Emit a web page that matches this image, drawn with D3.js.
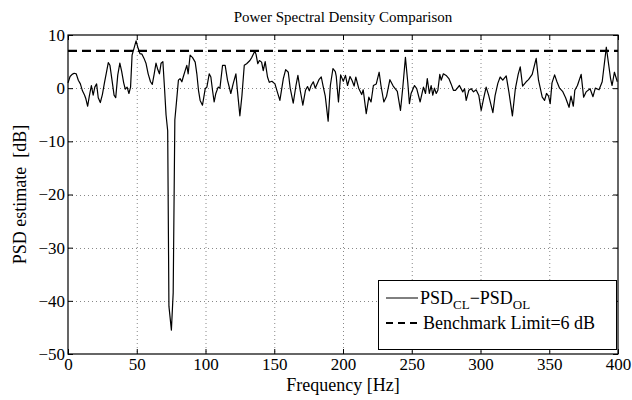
<!DOCTYPE html>
<html><head><meta charset="utf-8">
<script src="https://cdn.jsdelivr.net/npm/d3@7"></script>
<style>body{margin:0;background:#fff}svg{display:block}text{font-family:"Liberation Serif","Times New Roman",serif;fill:#000}</style>
</head><body><svg id="c" width="632" height="400"></svg>
<script>
const freq = [0,1.5,3,4.5,6,7.5,9,10.5,12,13,14.3,15.5,17,18.3,19.5,20.8,22,23.5,25,26.5,28,29.3,30.5,32,33.5,34.7,36.2,37.7,39,40.5,41.7,43,44.3,45.5,46.6,48,49.5,51,52.3,53.8,55.3,56.7,58.3,60,61.3,62.7,64,65.3,66.5,67.7,69,70.2,71.3,72.5,73.4,75.2,76.5,77.7,79,80.3,81.5,82.8,83.8,85.2,86.4,87.4,88.8,90.5,92.5,93.7,94.9,96.1,97.8,99.8,101,102.7,103.9,105.1,106.3,107.5,109.2,110.5,112.4,114.3,116,118.4,120.1,122.1,123.3,125,126.5,128.2,129.9,132.3,133.7,135.9,136.8,138,139.2,140.8,142,143.4,145.1,146.4,148.3,150.5,152,154.1,156.6,158.3,160.2,161.6,163.8,165.8,167.2,168.8,170.8,172.7,174.2,175.5,176.8,178.4,179.8,182.5,184.2,185.6,187.1,189.2,190.8,192.7,194.4,195.1,196.7,198.3,200.2,201.8,203.3,205.1,206.5,208.1,209.3,211.4,213.6,214.7,216.9,218.8,220.4,222.1,224.2,226.3,227.6,229.7,231.7,234.1,236.5,239.5,241.8,243.4,245.4,247.1,248.3,249.5,252,253.6,256.1,258.5,260,261.3,262.8,264.1,265.3,266.5,267.8,269,270.4,271.4,273,275,277,278.6,280.3,281.8,284.7,287.1,288.4,289.6,291.5,293.2,294.9,296.8,298.8,300.5,302.2,304.1,306,309,310.6,312.6,314.3,316.2,318.7,320.7,323.2,325.3,327.4,328.9,330.6,333.2,334.9,337.6,340.5,342.2,344.9,346.6,348,349.5,350.7,352,353.9,355.6,357.5,359.7,361.9,364.4,365.8,367.5,368.6,370.5,373.2,375,376.8,379.7,381.8,383.5,386.2,388.5,391.5,394.6,395.7,397.4,399.5];
const psdDiff = [1.0,2.2,2.6,2.8,2.7,1.5,0.8,-0.5,-1.3,-2.0,-3.4,-1.5,0.5,-1.3,0.2,0.8,-1.8,-2.7,-1.2,1.0,3.0,4.8,4.3,1.5,-1.3,-1.8,2.5,4.7,3.2,1.0,-0.2,0.2,-1.0,0.2,6.2,7.5,8.9,7.5,6.5,6.4,5.6,4.7,2.7,1.2,0.7,2.7,4.7,3.5,2.7,4.7,5.0,0.0,-5.0,-8,-41,-45.5,-38.5,-6,-2.3,1.5,1.8,1.2,2.1,3.3,4.3,2.7,6.2,5.8,4.9,2.7,-0.4,-2.3,-3.2,-0.1,0.2,2.7,2.1,-0.4,-2.6,-1.0,0.2,0.0,4.3,4.3,1.5,-1.0,0.8,2.7,-0.7,-5.2,-1.4,4.3,4.6,5.2,5.8,7.0,6.3,4.6,5.2,4.9,3.3,5.0,2.1,1.1,1.3,0.8,-0.5,-2.3,1.8,3.5,3.0,0.0,-2.8,0.5,2.4,-0.3,-3.2,-0.4,0.3,-0.5,0.5,1.2,0.0,1.6,2.1,0.3,-1.5,-6.2,0.5,3.7,3.1,2.2,-2.6,2.5,1.3,2.4,0.5,2.2,1.5,0.4,2.1,0.0,-1.2,-0.3,-4.8,-1.7,-2.6,0.5,0.8,3.0,0.5,-2.6,-1.5,1.6,0.4,-0.6,-4.2,-0.1,5.8,1.1,-2.9,-1.0,0.5,-0.1,-2.6,0.2,-1.0,1.8,-1.0,0.5,-1.3,0.0,-1.0,-0.4,2.6,1.5,2.7,2.4,1.8,0.8,-0.4,-0.4,0.5,-0.7,-0.1,-2.3,-0.4,-0.1,-0.7,-0.3,-1.4,-4.2,-2.0,0.2,-1.4,-4.6,-1.4,0.9,2.1,1.5,2.3,-0.8,-5.2,-0.2,2.6,4.0,0.4,1.2,1.6,2.6,5.6,1.5,-1.7,-2.3,-1.0,-1.5,-2.9,1.0,2.5,1.2,0.0,-0.6,-1.8,-3.6,-1.5,-3.4,-0.4,0.5,2.6,-1.7,-0.7,-0.1,-1.6,0.0,-0.3,1.2,7.7,1.8,0.5,3.0,1.2];
const benchmarkLevel = 7;
const xTicks = [0,50,100,150,200,250,300,350,400];
const yTicks = [-50,-40,-30,-20,-10,0,10];
const titleText = "Power Spectral Density Comparison";
const xLabel = "Frequency [Hz]";
const yLabel = "PSD estimate  [dB]";

const svg = d3.select("#c");
const L=68, R=618, T=35, B=354;
const x = d3.scaleLinear().domain([0,400]).range([L,R]);
const y = d3.scaleLinear().domain([-50,10]).range([B,T]);

// grid
const g = svg.append("g");
g.selectAll(".gx").data(xTicks.slice(1,-1)).join("line")
  .attr("x1",d=>x(d)+0.5).attr("x2",d=>x(d)+0.5).attr("y1",T).attr("y2",B)
  .attr("stroke","#888").attr("stroke-width",1).attr("stroke-dasharray","1,3");
g.selectAll(".gy").data(yTicks.slice(1,-1)).join("line")
  .attr("y1",d=>Math.round(y(d))+0.5).attr("y2",d=>Math.round(y(d))+0.5).attr("x1",L).attr("x2",R)
  .attr("stroke","#888").attr("stroke-width",1).attr("stroke-dasharray","1,3");

// axes with inward ticks
const fmt = d=> d<0 ? "\u2212"+Math.abs(d) : String(d);
const axB = svg.append("g").attr("transform",`translate(0,${B})`)
  .call(d3.axisBottom(x).tickValues(xTicks).tickSizeInner(-5).tickSizeOuter(0).tickPadding(5).tickFormat(fmt));
const axT = svg.append("g").attr("transform",`translate(0,${T})`)
  .call(d3.axisTop(x).tickValues(xTicks).tickSizeInner(-5).tickSizeOuter(0).tickFormat(""));
const axLf = svg.append("g").attr("transform",`translate(${L},0)`)
  .call(d3.axisLeft(y).tickValues(yTicks).tickSizeInner(-5).tickSizeOuter(0).tickPadding(3).tickFormat(fmt));
const axRt = svg.append("g").attr("transform",`translate(${R},0)`)
  .call(d3.axisRight(y).tickValues(yTicks).tickSizeInner(-5).tickSizeOuter(0).tickFormat(""));
[axB,axT,axLf,axRt].forEach(a=>{a.select(".domain").remove();a.selectAll("line").attr("stroke","#000");
  a.selectAll("text").style("font-family",'"Liberation Serif",serif').style("font-size","17px").attr("fill","#000");});
axB.selectAll("text").attr("y",4).attr("dy","0.71em");

// data line
svg.append("path").datum(freq.map((f,i)=>[f,psdDiff[i]]))
  .attr("d",d3.line().x(d=>x(d[0])).y(d=>y(d[1])))
  .attr("fill","none").attr("stroke","#000").attr("stroke-width",1.2).attr("stroke-linejoin","round");

// benchmark
svg.append("line").attr("x1",L).attr("x2",R).attr("y1",y(benchmarkLevel)).attr("y2",y(benchmarkLevel))
  .attr("stroke","#000").attr("stroke-width",2.2).attr("stroke-dasharray","9,5");

// frame
svg.append("rect").attr("x",L).attr("y",T).attr("width",R-L).attr("height",B-T)
  .attr("fill","none").attr("stroke","#000").attr("stroke-width",1.2);

// title & labels
svg.append("text").attr("x",(L+R)/2).attr("y",22).attr("text-anchor","middle").style("font-size","15px").text(titleText);
svg.append("text").attr("x",(L+R)/2).attr("y",391).attr("text-anchor","middle").style("font-size","18px").text(xLabel);
svg.append("text").attr("transform",`translate(26,${(T+B)/2}) rotate(-90)`).attr("text-anchor","middle").style("font-size","18px").style("white-space","pre").text(yLabel);

// legend
const lg = svg.append("g");
lg.append("rect").attr("x",378.5).attr("y",280.5).attr("width",238).attr("height",69).attr("fill","#fff").attr("stroke","#000").attr("stroke-width",1);
lg.append("line").attr("x1",386).attr("x2",418).attr("y1",298).attr("y2",298).attr("stroke","#000").attr("stroke-width",1);
const t1 = lg.append("text").attr("x",420).attr("y",304).style("font-size","18px");
t1.append("tspan").text("PSD");
t1.append("tspan").attr("dy",5).style("font-size","13px").text("CL");
t1.append("tspan").attr("dy",-5).text("\u2212PSD");
t1.append("tspan").attr("dy",5).style("font-size","13px").text("OL");
lg.append("line").attr("x1",386).attr("x2",421).attr("y1",323).attr("y2",323).attr("stroke","#000").attr("stroke-width",2.2).attr("stroke-dasharray","7,5");
lg.append("text").attr("x",423).attr("y",329).style("font-size","18px").text("Benchmark Limit=6 dB");
</script></body></html>
